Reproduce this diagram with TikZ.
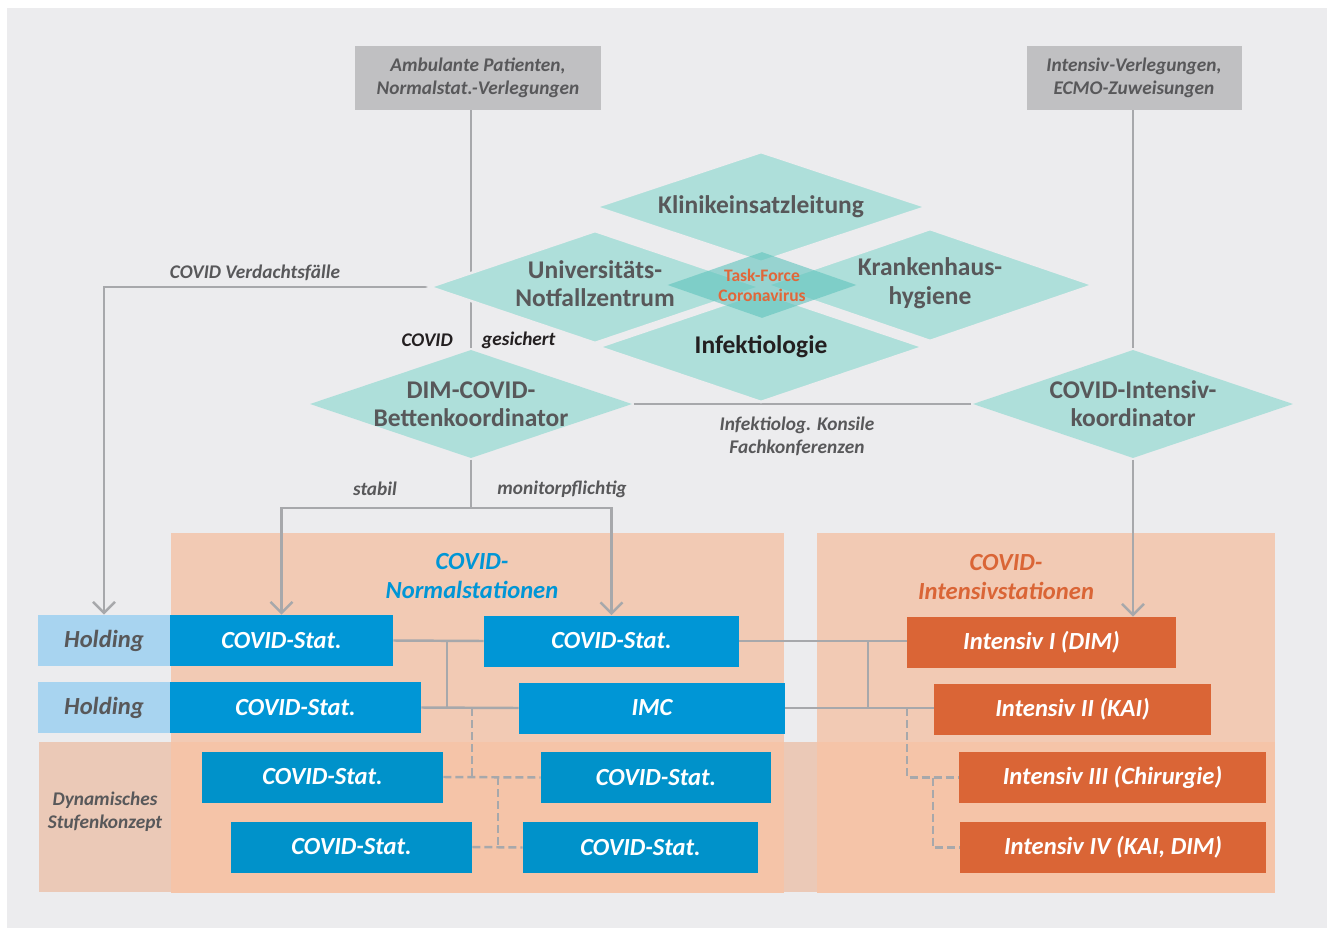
\documentclass[tikz,border=0pt]{standalone}
\usepackage{fontspec}
\setmainfont{Carlito}
\usetikzlibrary{calc, positioning}
\usetikzlibrary{arrows.meta}
\usetikzlibrary{shapes.geometric}
\usetikzlibrary{backgrounds}

\definecolor{bggray}{HTML}{ECECEE}
\definecolor{boxgray}{HTML}{C0C0C2}
\definecolor{linegray}{HTML}{A7A8AB}
\definecolor{txtgray}{HTML}{58585A}
\definecolor{txtdark}{HTML}{231F20}
\definecolor{diateal}{HTML}{AEDFDA}
\definecolor{taskteal}{HTML}{5FC3BC}
\definecolor{taskred}{HTML}{E0673A}
\definecolor{covblue}{HTML}{0096D6}
\definecolor{covbluelow}{HTML}{0092CA}
\definecolor{holdblue}{HTML}{A8D4F0}
\definecolor{covorange}{HTML}{DA6536}
\definecolor{panelup}{HTML}{F2CAB4}
\definecolor{panellow}{HTML}{F5C4A8}
\definecolor{stripe}{HTML}{EBC9B7}

\newcommand\diafont{\fontsize{14.5pt}{16pt}\selectfont\bfseries}
\newcommand\boxfont{\fontsize{14pt}{16pt}\selectfont\bfseries\itshape}
\newcommand\srcfont{\fontsize{11pt}{13pt}\selectfont\bfseries\itshape}
\newcommand\lblfont{\fontsize{11pt}{13pt}\selectfont\bfseries\itshape}
\newcommand\ttlfont{\fontsize{14pt}{17pt}\selectfont\bfseries\itshape}
\newcommand\taskfont{\fontsize{10pt}{11.3pt}\selectfont\bfseries}

\begin{document}
\begin{tikzpicture}[x=0.2mm,y=-0.2mm,
  conn/.style={draw=linegray, line width=1.4pt},
  dconn/.style={conn, dash pattern=on 1.6mm off 0.8mm},
  arr/.style={conn, -{Straight Barb[length=2.2mm,width=4.4mm]}},
  dia/.style={diamond, fill=diateal, draw=bggray, line width=1.5pt, inner sep=0pt},
  diatext/.style={font=\diafont, text=txtgray, align=center},
  srcbox/.style={fill=boxgray, text=txtgray, font=\srcfont, align=center,
    minimum height=1.28cm, inner sep=0pt},
  statbox/.style={fill=covblue, text=white, font=\boxfont,
    minimum height=1.02cm, inner sep=0pt},
  holdbox/.style={statbox, fill=holdblue, text=txtgray, minimum width=2.64cm},
  intbox/.style={statbox, fill=covorange},
  lbl/.style={font=\lblfont, text=txtgray, align=center},
  ttl/.style={font=\ttlfont, align=center}]

% sources
\node[srcbox, minimum width=4.92cm] (amb) at (478,78) {Ambulante Patienten,\\Normalstat.-Verlegungen};
\node[srcbox, minimum width=4.3cm] (ecmo) at (1134,78) {Intensiv-Verlegungen,\\ECMO-Zuweisungen};

% task force cluster
\node[dia, minimum width=6.64cm, minimum height=2.22cm,
  label={[diatext]center:Klinikeinsatzleitung}] (klinik) at (761,207) {};
\node[dia, minimum width=6.64cm, minimum height=2.26cm,
  label={[diatext, yshift=2pt]center:{Universitäts-\\Notfallzentrum}}] (uni) at (595,287) {};
\node[dia, minimum width=6.56cm, minimum height=2.26cm,
  label={[diatext, yshift=1pt]center:{Krankenhaus-\\hygiene}}] (hyg) at (930,285) {};
\node[dia, minimum width=6.52cm, minimum height=2.22cm,
  label={[diatext, text=txtdark]center:Infektiologie}] (infekt) at (761,347) {};
\node[diamond, inner sep=0pt, fill=taskteal, fill opacity=0.6,
  minimum width=3.78cm, minimum height=1.32cm,
  label={[font=\taskfont, text=taskred, align=center]center:{Task-Force\\Coronavirus}}] (task) at (762,285) {};

% coordinators
\node[dia, draw=none, minimum width=6.46cm, minimum height=2.18cm,
  label={[diatext]center:{DIM-COVID-\\Bettenkoordinator}}] (dim) at (471,404) {};
\node[dia, draw=none, minimum width=6.42cm, minimum height=2.18cm,
  label={[diatext]center:{COVID-Intensiv-\\koordinator}}] (icoord) at (1133,404) {};

% normal stations
\node[holdbox] (hold1) at (104,640.5) {Holding};
\node[holdbox] (hold2) at (104,707.5) {Holding};
\node[statbox, minimum width=4.46cm] (s1) at (281.5,640.5) {COVID-Stat.};
\node[statbox, minimum width=5.1cm] (s2) at (611.5,641) {COVID-Stat.};
\node[statbox, minimum width=5.02cm] (s3) at (295.5,707.5) {COVID-Stat.};
\node[statbox, minimum width=5.32cm] (imc) at (652,708) {IMC};
\node[statbox, fill=covbluelow, minimum width=4.82cm] (s4) at (322.5,777) {COVID-Stat.};
\node[statbox, fill=covbluelow, minimum width=4.6cm] (s5) at (656,777.5) {COVID-Stat.};
\node[statbox, fill=covbluelow, minimum width=4.82cm] (s6) at (351.5,847) {COVID-Stat.};
\node[statbox, fill=covbluelow, minimum width=4.7cm] (s7) at (640.5,847.5) {COVID-Stat.};

% intensive care
\node[intbox, minimum width=5.38cm] (i1) at (1041.5,642.5) {Intensiv I (DIM)};
\node[intbox, minimum width=5.54cm] (i2) at (1072.5,709.5) {Intensiv II (KAI)};
\node[intbox, minimum width=6.14cm] (i3) at (1112.5,777.5) {Intensiv III (Chirurgie)};
\node[intbox, minimum width=6.12cm] (i4) at (1113,847.5) {Intensiv IV (KAI, DIM)};

% titles and labels
\node[ttl, text=covblue] (ttlN) at (472,576) {COVID-\\Normalstationen};
\node[ttl, text=covorange] (ttlI) at (1006,577) {COVID-\\Intensivstationen};
\node[lbl] (stufen) at (105,812) {Dynamisches\\Stufenkonzept};
\node[lbl] (verdacht) at (255,273) {COVID Verdachtsfälle};
\node[lbl, text=txtdark, anchor=east] (gesCovid) at (459,340) {COVID};
\node[lbl, text=txtdark, anchor=west] (gesText) at (476,340) {gesichert};
\node[lbl] (stabil) at (375,489) {stabil};
\node[lbl] (monitor) at (562,489) {monitorpflichtig};
\node[lbl] (konsile) at (797,436) {Infektiolog. Konsile\\Fachkonferenzen};

\begin{scope}[on background layer]
% panels
\fill[white] (0,0) rectangle (1327,928);
\fill[bggray] (7,8) rectangle (1327,928);
\fill[stripe] (39,742) rectangle (1275,892);
\fill[panelup] (171,533) rectangle (784,742);
\fill[panellow] (171,742) rectangle (784,893);
\fill[panelup] (817,533) rectangle (1275,742);
\fill[panellow] (817,742) rectangle (1275,893);

% flows
\draw[arr] (uni.west) -| (hold1.north);
\draw[conn] (amb.south -| dim.north) -- (dim.north);
\draw[conn] (dim.south) -- ++(0,48) coordinate (split);
\draw[arr] (split) -| (s1.north);
\draw[arr] (split) -| (s2.north);
\draw[conn] (dim.east) -- (icoord.west);
\draw[conn] (ecmo.south -| icoord.north) -- (icoord.north);
\draw[arr] (icoord.south) -- (icoord.south |- i1.north);

% station links
\coordinate (jn) at (447,641);
\coordinate (ji) at (868,641);
\coordinate (jd1) at (472,708);
\coordinate (jd2) at (498,777);
\coordinate (jd3) at (907,708);
\coordinate (jd4) at (933,777.5);
\draw[conn] (s1.east) -- (s2.west);
\draw[conn] (s3.east) -- (imc.west);
\draw[conn] (jn) -- (jn |- imc.west);
\draw[conn] (s2.east) -- (s2.east -| i1.west);
\draw[conn] (imc.east) -- (imc.east -| i2.west);
\draw[conn] (ji) -- (ji |- imc.east);
\draw[dconn] (jd1) -- (jd1 |- s4.east);
\draw[dconn] (s4.east) -- (s5.west);
\draw[dconn] (jd2) -- (jd2 |- s6.east);
\draw[dconn] (s6.east) -- (s7.west);
\draw[dconn] (jd3) |- (i3.west);
\draw[dconn] (jd4) |- (i4.west);
\end{scope}
\end{tikzpicture}
\end{document}
